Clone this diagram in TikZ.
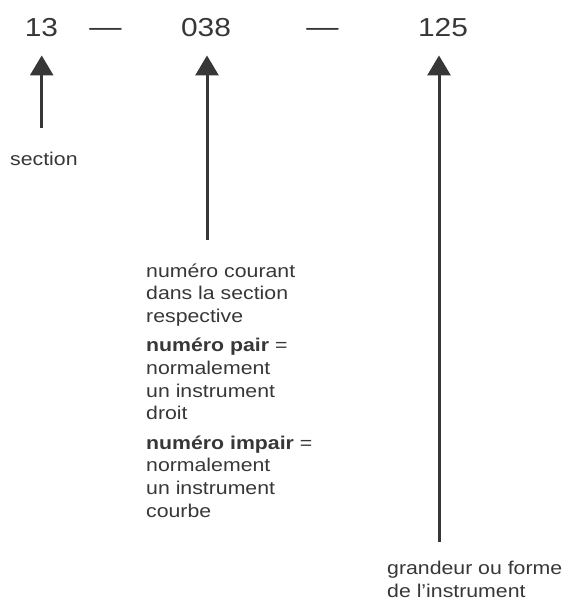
\documentclass[tikz,border=0pt]{standalone}
\usepackage{fontspec}
\setmainfont[FakeStretch=1.15]{Liberation Sans}
\usetikzlibrary{arrows.meta}
\definecolor{ink}{RGB}{55,55,55}

\begin{document}
\begin{tikzpicture}[x=1pt, y=1pt,
  num/.style={text=ink, font=\fontsize{26}{30}\selectfont, inner sep=0pt, anchor=base},
  note/.style={text=ink, font=\fontsize{18.5}{22.6}\selectfont, inner sep=0pt,
    align=left, anchor=base west},
  pointer/.style={draw=ink, line width=3pt, -{Triangle[length=20pt, width=23pt]}}
]
  \useasboundingbox (0,0) rectangle (563,-602);

  % the three parts of the number
  \node[num] (n13)  at (41.5,-37) {13};
  \node[num, font=\fontsize{28}{30}\selectfont] (d1) at (105.5,-37) {—};
  \node[num] (n038) at (206,-37)  {038};
  \node[num, font=\fontsize{28}{30}\selectfont] (d2) at (322.5,-37) {—};
  \node[num] (n125) at (443,-37)  {125};

  % explanations (base = last line)
  \node[note] (sec) at (10,-165) {section};
  \node[note] (cur) at (146,-517)
    {numéro courant\\dans la section\\respective\\[7pt]
     \textbf{numéro pair} =\\normalement\\un instrument\\droit\\[7pt]
     \textbf{numéro impair} =\\normalement\\un instrument\\courbe};
  \node[note] (size) at (387,-597) {grandeur ou forme\\de l’instrument};

  % arrows up to the numbers
  \coordinate (t13)  at (41.7,-128);
  \coordinate (t038) at (207,-240);
  \coordinate (t125) at (439,-542);
  \draw[pointer, shorten >=18pt] (t13)  -- (t13 |- n13.south);
  \draw[pointer, shorten >=18pt] (t038) -- (t038 |- n038.south);
  \draw[pointer, shorten >=18pt] (t125) -- (t125 |- n125.south);
\end{tikzpicture}
\end{document}
